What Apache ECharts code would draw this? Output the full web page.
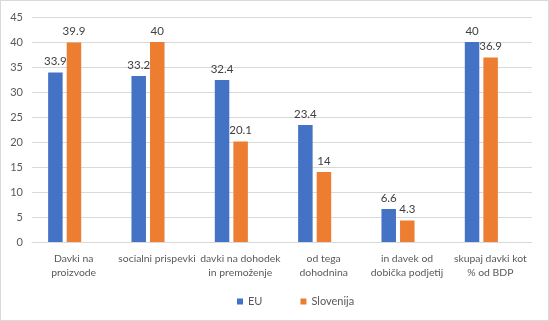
<!DOCTYPE html>
<html><head><meta charset="utf-8">
<script src="https://cdn.jsdelivr.net/npm/echarts@6/dist/echarts.min.js"></script>
<style>html,body{margin:0;padding:0;background:#fff}#c{width:547px;height:319px;border:1px solid #d9d9d9}</style>
</head><body><div id="c"></div>
<script>
const categories = ["Davki na\nproizvode","socialni prispevki","davki na dohodek\nin premoženje","od tega\ndohodnina","in davek od\ndobička podjetij","skupaj davki kot\n% od BDP"];
const euValues = [33.9, 33.2, 32.4, 23.4, 6.6, 40];
const siValues = [39.9, 40, 20.1, 14, 4.3, 36.9];
const seriesNames = ["EU","Slovenija"];
const yTicks = {min:0, max:45, interval:5};

const font = "Lato, 'Open Sans', sans-serif";
const chart = echarts.init(document.getElementById('c'));
chart.setOption({
  animation:false,
  textStyle:{fontFamily:font},
  legend:{
    data:seriesNames, bottom:8, left:231, itemWidth:6, itemHeight:6, itemGap:38,
    icon:'rect', textStyle:{color:'#595959', fontSize:11, fontFamily:font}
  },
  grid:[
    {left:31, right:16, top:16, bottom:78},
    {left:22, right:25, top:16, bottom:78}
  ],
  xAxis:[
    {type:'category', gridIndex:0, data:categories,
     axisLine:{lineStyle:{color:'#d9d9d9'}}, axisTick:{show:false},
     axisLabel:{color:'#595959', fontSize:10.4, fontFamily:font, interval:0, lineHeight:14, margin:10}},
    {type:'category', gridIndex:1, data:categories, show:false}
  ],
  yAxis:[
    {type:'value', gridIndex:0, min:yTicks.min, max:yTicks.max, interval:yTicks.interval,
     axisLine:{show:false}, axisTick:{show:false},
     axisLabel:{color:'#595959', fontSize:11, fontFamily:font, margin:9},
     splitLine:{lineStyle:{color:'#d9d9d9'}}},
    {type:'value', gridIndex:1, min:yTicks.min, max:yTicks.max, interval:yTicks.interval, show:false, splitLine:{show:false}}
  ],
  series:[
    {name:seriesNames[0], type:'bar', xAxisIndex:1, yAxisIndex:1, data:euValues, barWidth:14.5, barGap:'28%',
     itemStyle:{color:'#4472C4'},
     label:{show:true, position:'top', color:'#404040', fontSize:11.5, fontFamily:font, distance:5}},
    {name:seriesNames[1], type:'bar', xAxisIndex:1, yAxisIndex:1, data:siValues, barWidth:14.5, barGap:'28%',
     itemStyle:{color:'#ED7D31'},
     label:{show:true, position:'top', color:'#404040', fontSize:11.5, fontFamily:font, distance:5}}
  ]
});
</script></body></html>
